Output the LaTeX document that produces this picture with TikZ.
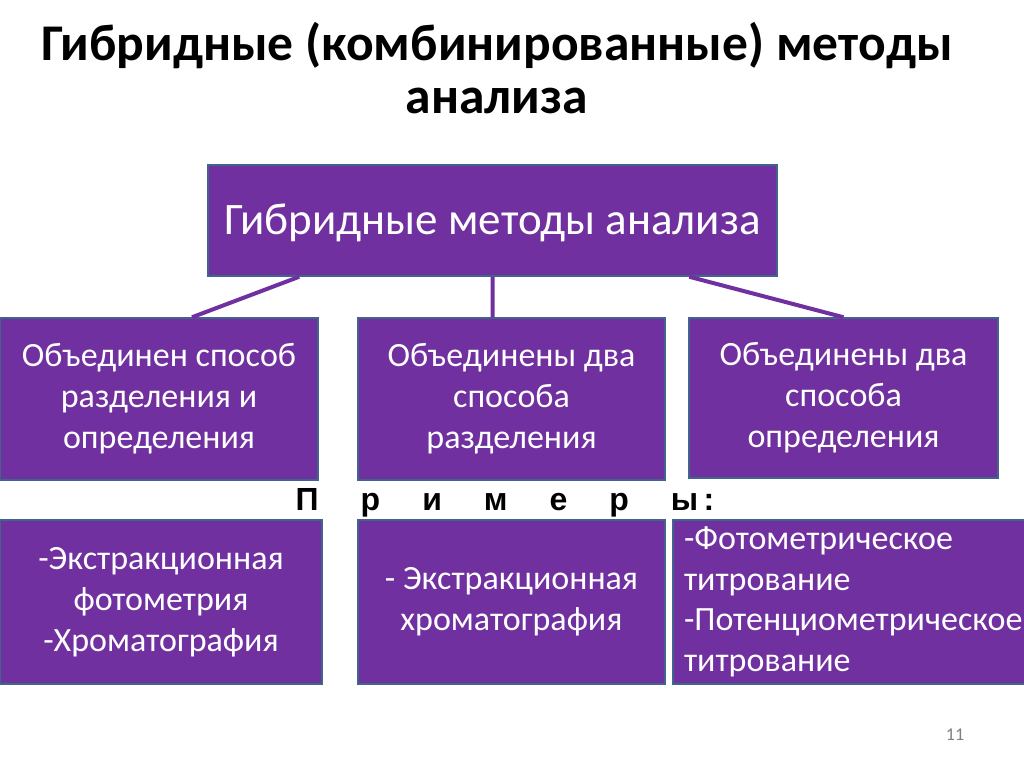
\documentclass[tikz,border=0pt]{standalone}
\usepackage{fontspec}
\setmainfont{Carlito}
\newfontfamily\arialfont{Liberation Sans}
\usetikzlibrary{positioning, calc}
\definecolor{violet}{HTML}{7030A0}
\definecolor{rahmen}{HTML}{41648C}
\begin{document}
\begin{tikzpicture}[x=1pt, y=-1pt,
every node/.append style = {inner sep=1.5pt},
  kasten/.style = {fill=violet, draw=rahmen, line width=1.5pt, text=white,
                   align=center, font=\fontsize{34}{41}\selectfont},
  linie/.style  = {violet, line width=4pt}
                    ]
\useasboundingbox (0,0) rectangle (1024,767);
%nodes
\node (titel)  at (497,68) [align=center, font=\fontsize{51.5}{53}\selectfont\bfseries]
               {Гибридные (комбинированные) методы\\анализа};
\node (haupt)  at (492.5,220.5) [kasten, minimum width=569pt, minimum height=111pt,
                 text depth=3pt, font=\fontsize{45}{50}\selectfont]  {Гибридные методы анализа};
%
\node (trenbest) at (159,399)   [kasten, minimum width=318pt, minimum height=162pt]
                 {Объединен способ\\разделения и\\определения};
\node (zweitren) at (511.5,399) [kasten, minimum width=307pt, minimum height=162pt]
                 {Объединены два\\способа\\разделения};
\node (zweibest) at (843.5,398) [kasten, minimum width=309pt, minimum height=160pt]
                 {Объединены два\\способа\\определения};
%
\node (beispiele) at (505,503) [font=\fontsize{32}{34}\selectfont\arialfont\bfseries]
   {П\hspace{42pt}р\hspace{42pt}и\hspace{42pt}м\hspace{42pt}е\hspace{42pt}р\hspace{42pt}ы\,:};
%
\node (bsp1) at (161,602)   [kasten, minimum width=322pt, minimum height=164pt]
             {-Экстракционная\\фотометрия\\-Хроматография};
\node (bsp2) at (511.5,602) [kasten, minimum width=307pt, minimum height=164pt]
             {- Экстракционная\\хроматография};
\node (bsp3) at (850,602)   [kasten, minimum width=354pt, minimum height=164pt,
                             align=left, text width=332pt, inner xsep=11pt,
                             font=\fontsize{34}{40.5}\selectfont]
             {-Фотометрическое\\титрование\\\mbox{-Потенциометрическое}\\титрование};
%
\node (seite) at (955,735) [text=gray, font=\fontsize{18}{20}\selectfont] {11};
% edges
\draw[linie] ([xshift=92pt]haupt.south west)  -- ([xshift=33pt]trenbest.north)
             (haupt.south)                    -- (haupt.south |- zweitren.north)
             ([xshift=482pt]haupt.south west) -- (zweibest.north);
\end{tikzpicture}
\end{document}
